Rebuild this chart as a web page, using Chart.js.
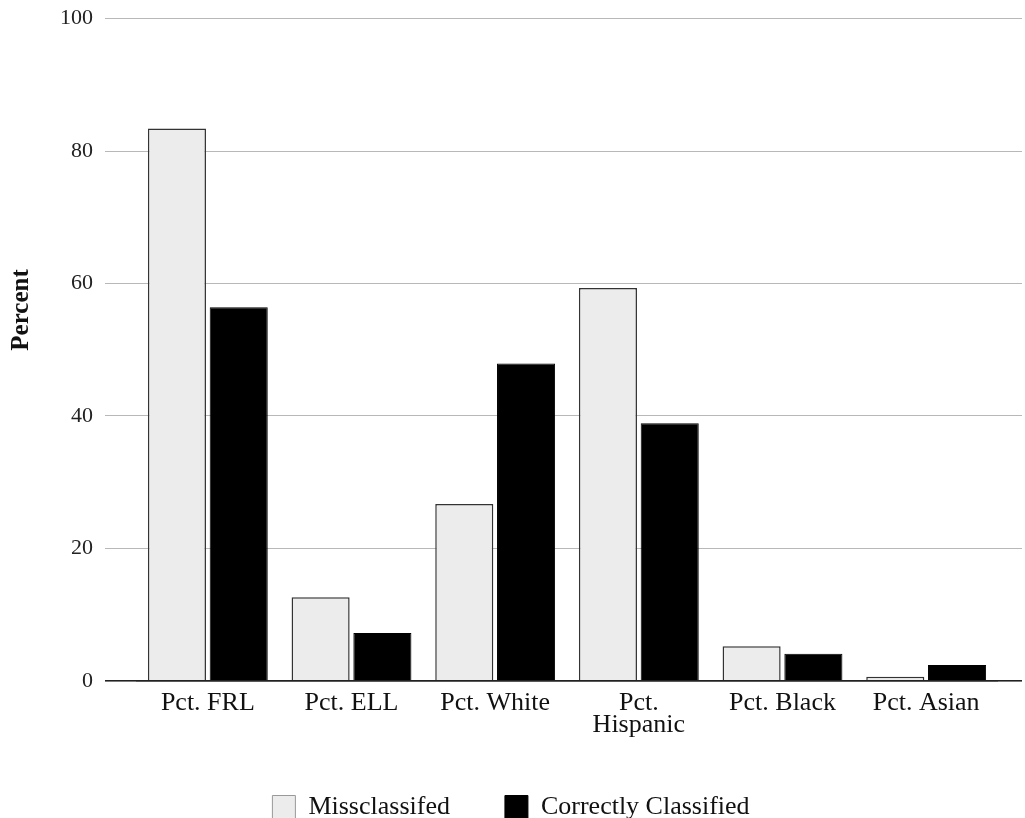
<!DOCTYPE html>
<html>
<head>
<meta charset="utf-8">
<script src="https://cdn.jsdelivr.net/npm/chart.js@4.4.0/dist/chart.umd.min.js"></script>
<style>
  body { margin: 0; background: #fff; }
  #wrap { width: 1025px; height: 818px; }
</style>
</head>
<body>
<div id="wrap"><canvas id="groupChart" width="1025" height="818"></canvas></div>
<script>
const categories = ["Pct. FRL", "Pct. ELL", "Pct. White", ["Pct.", "Hispanic"], "Pct. Black", "Pct. Asian"];
const missclassified = [83.4, 12.6, 26.7, 59.3, 5.2, 0.6];
const correctlyClassified = [56.4, 7.2, 47.9, 38.9, 4.1, 2.4];
const yTicks = [0, 20, 40, 60, 80, 100];

const serif = "'Liberation Serif', 'Times New Roman', serif";

// y-axis title drawn by hand, it sits a bit above the middle in the original
const yTitle = {
    id: "yTitle",
    afterDraw(chart) {
        const { ctx, chartArea } = chart;
        ctx.save();
        ctx.translate(22, chartArea.top + (chartArea.bottom - chartArea.top) * 0.44);
        ctx.rotate(-Math.PI / 2);
        ctx.font = "bold 25px " + serif;
        ctx.fillStyle = "#111";
        ctx.textAlign = "center";
        ctx.textBaseline = "middle";
        ctx.fillText("Percent", 0, 0);
        ctx.restore();
    },
};

const lineColor = (c) => (c.tick && c.tick.value === 0 ? "#222" : "#b8b8b8");
const lineWidth = (c) => (c.tick && c.tick.value === 0 ? 1.6 : 1);

const groupCtx = document.getElementById("groupChart").getContext("2d");
const groupChart = new Chart(groupCtx, {
    type: "bar",
    data: {
        labels: categories,
        datasets: [
            {
                label: "Missclassifed",
                data: missclassified,
                backgroundColor: "#ececec",
                borderColor: "#333333",
                borderWidth: 1.5,
                categoryPercentage: 0.86,
                barPercentage: 0.94,
            },
            {
                label: "Correctly Classified",
                data: correctlyClassified,
                backgroundColor: "#000000",
                borderColor: "#000000",
                borderWidth: 1,
                categoryPercentage: 0.86,
                barPercentage: 0.94,
            },
        ],
    },
    options: {
        responsive: false,
        animation: false,
        layout: { padding: { top: 1, left: 0, right: 3, bottom: -12 } },
        scales: {
            x: {
                grid: { display: false },
                border: { display: false },
                ticks: {
                    color: "#111",
                    font: { family: serif, size: 26, lineHeight: 0.85 },
                    padding: 3,
                    maxRotation: 0,
                    autoSkip: false,
                },
            },
            y: {
                position: "left",
                min: 0,
                max: 100,
                afterBuildTicks: (axis) => { axis.ticks = yTicks.map((v) => ({ value: v })); },
                afterFit: (axis) => { axis.width += 48; },
                border: { display: false },
                grid: { color: lineColor, tickColor: lineColor, lineWidth: lineWidth, tickLength: 31 },
                ticks: {
                    color: "#222",
                    font: { family: serif, size: 22, lineHeight: 0.6 },
                    padding: 12,
                },
            },
            yRight: {
                position: "right",
                min: 0,
                max: 100,
                afterBuildTicks: (axis) => { axis.ticks = yTicks.map((v) => ({ value: v })); },
                border: { display: false },
                grid: { color: lineColor, tickColor: lineColor, lineWidth: lineWidth, tickLength: 24 },
                ticks: { display: false },
            },
        },
        plugins: {
            legend: {
                position: "bottom",
                labels: {
                    color: "#111",
                    font: { family: serif, size: 26 },
                    boxWidth: 23,
                    boxHeight: 23,
                    padding: 55,
                    generateLabels: function (chart) {
                        return Chart.defaults.plugins.legend.labels.generateLabels(chart).map((l, i) => {
                            l.lineWidth = 1;
                            l.strokeStyle = i === 0 ? "#999" : "#000";
                            return l;
                        });
                    },
                },
            },
            tooltip: { enabled: false },
        },
    },
    plugins: [yTitle],
});
</script>
</body>
</html>
